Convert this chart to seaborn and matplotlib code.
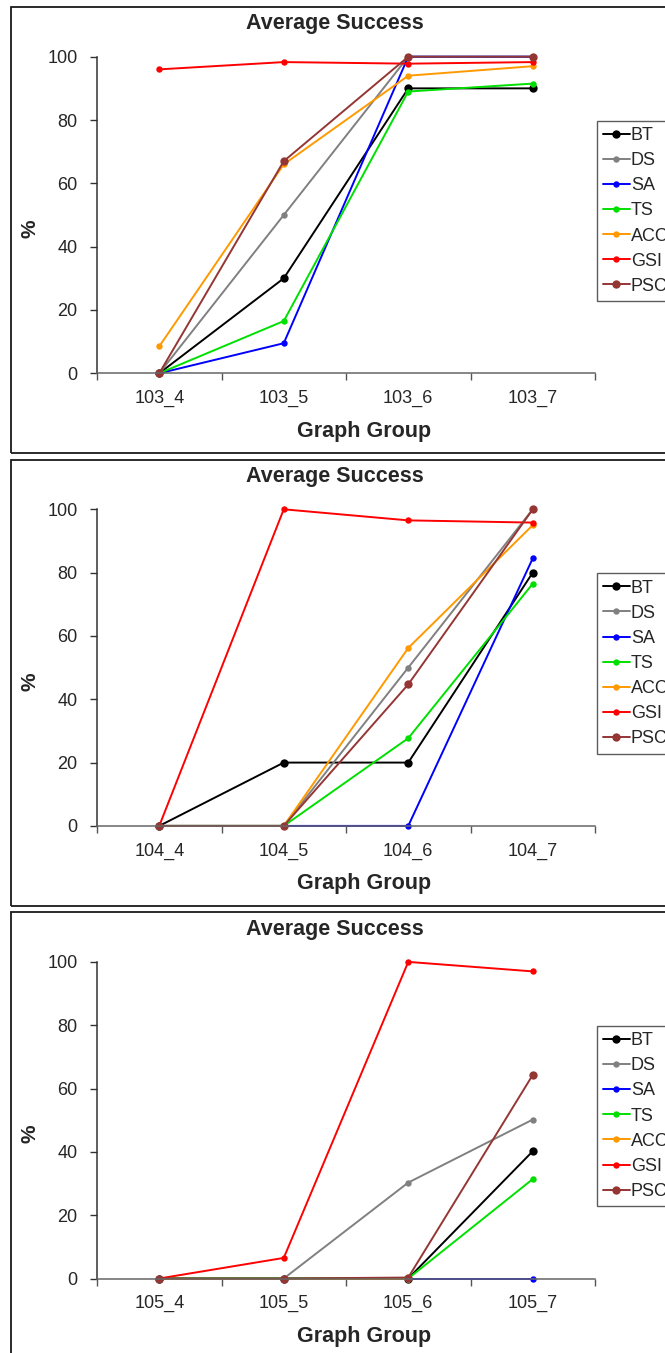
import matplotlib
matplotlib.use("Agg")
import matplotlib.pyplot as plt
import seaborn as sns
import pandas as pd
import numpy as np
from matplotlib.patches import Rectangle

sns.set_style("white")
plt.rcParams['font.family'] = ['Liberation Sans', 'DejaVu Sans']

methods = ["BT", "DS", "SA", "TS", "ACC", "GSI", "PSC"]
colors = ["#000000", "#808080", "#0000FF", "#00E000", "#FF9900", "#FF0000", "#943634"]

groups1 = ["103_4", "103_5", "103_6", "103_7"]
BT1 = [0, 30, 90, 90]
DS1 = [0, 50, 100, 100]
SA1 = [0, 9.5, 100, 100]
TS1 = [0, 16.5, 89, 91.5]
ACC1 = [8.5, 66, 94, 97]
GSI1 = [96, 98.3, 97.8, 98.3]
PSC1 = [0, 67, 100, 100]

groups2 = ["104_4", "104_5", "104_6", "104_7"]
BT2 = [0, 20, 20, 80]
DS2 = [0, 0, 50, 100]
SA2 = [0, 0, 0, 84.5]
TS2 = [0, 0, 27.7, 76.5]
ACC2 = [0, 0, 56.2, 95]
GSI2 = [0, 100, 96.5, 95.8]
PSC2 = [0, 0, 44.7, 100]

groups3 = ["105_4", "105_5", "105_6", "105_7"]
BT3 = [0, 0, 0, 40.2]
DS3 = [0, 0, 30.3, 50.2]
SA3 = [0, 0, 0, 0]
TS3 = [0, 0, 0, 31.4]
ACC3 = [0, 0, 0, None]
GSI3 = [0, 6.5, 100, 97]
PSC3 = [0, 0, 0.3, 64.3]

title = "Average Success"
xlabel = "Graph Group"
ylabel = "%"
yticks = [0, 20, 40, 60, 80, 100]

panels = [
    (groups1, [BT1, DS1, SA1, TS1, ACC1, GSI1, PSC1]),
    (groups2, [BT2, DS2, SA2, TS2, ACC2, GSI2, PSC2]),
    (groups3, [BT3, DS3, SA3, TS3, ACC3, GSI3, PSC3]),
]

W, H = 665, 1353
fig = plt.figure(figsize=(W / 100, H / 100), dpi=100)
fig.patch.set_facecolor("white")

def fx(px):
    return px / W

def fy(py):
    return 1 - py / H

STEP = 452.6
big_marker = {"BT", "PSC"}

for i, (groups, series) in enumerate(panels):
    off = i * STEP
    # frame
    fig.patches.append(Rectangle((fx(10.5), fy(453 + off)), fx(700) - fx(10.5),
                                 fy(7 + off) - fy(453 + off),
                                 transform=fig.transFigure, fill=False,
                                 edgecolor="#1a1a1a", linewidth=1.3, zorder=0))
    left, right = 97, 595
    top, bottom = 56.7 + off, 373.3 + off
    ax = fig.add_axes([fx(left), fy(bottom), fx(right) - fx(left), fy(top) - fy(bottom)])
    ax.set_facecolor("none")
    for name, vals, col in zip(methods, series, colors):
        v = np.array([np.nan if x is None else x for x in vals], dtype=float)
        df = pd.DataFrame({"pos": range(len(groups)), "value": v})
        ms = 6.0 if name in big_marker else 4.6
        sns.lineplot(data=df, x="pos", y="value", ax=ax, color=col, marker="o",
                     markersize=ms, markeredgewidth=0, linewidth=1.4,
                     label=name, sort=False, clip_on=False)
    ax.set_xlim(-0.5, len(groups) - 0.5)
    ax.set_ylim(0, 100)
    ax.set_xticks(range(len(groups)))
    ax.set_xticklabels(groups, fontsize=13)
    ax.set_xticks([k - 0.5 for k in range(len(groups) + 1)], minor=True)
    ax.tick_params(axis="x", which="major", length=0, pad=12)
    ax.tick_params(axis="x", which="minor", length=5, width=1, color="#555555", direction="out")
    ax.set_yticks(yticks)
    ax.set_yticklabels([str(v) for v in yticks], fontsize=13)
    ax.tick_params(axis="y", length=5, width=1, color="#333333", direction="out", pad=9, left=True)
    ax.tick_params(axis="x", which="minor", bottom=True)
    for s in ["top", "right"]:
        ax.spines[s].set_visible(False)
    ax.spines["left"].set_color("#333333")
    ax.spines["bottom"].set_color("#666666")
    ax.spines["left"].set_linewidth(1.1)
    ax.spines["bottom"].set_linewidth(1.1)
    ax.set_xlabel("")
    ax.set_ylabel("")
    fig.text(fx(335), fy(24 + off), title, ha="center", va="center",
             fontsize=15.5, fontweight="bold")
    fig.text(fx(364), fy(431 + off), xlabel, ha="center", va="center",
             fontsize=15.5, fontweight="bold")
    fig.text(fx(30), fy(229 + off), ylabel, ha="center", va="center",
             rotation=90, fontsize=15, fontweight="bold")
    leg = ax.legend(loc="upper left", bbox_to_anchor=(fx(597), fy(120.7 + off)),
                    bbox_transform=fig.transFigure, borderaxespad=0,
                    fontsize=13, frameon=True, fancybox=False, handlelength=1.45,
                    handletextpad=0.08, labelspacing=0.45, borderpad=0.35)
    leg.get_frame().set_edgecolor("#333333")
    leg.get_frame().set_linewidth(1.0)

fig.savefig("out.png", dpi=100)
